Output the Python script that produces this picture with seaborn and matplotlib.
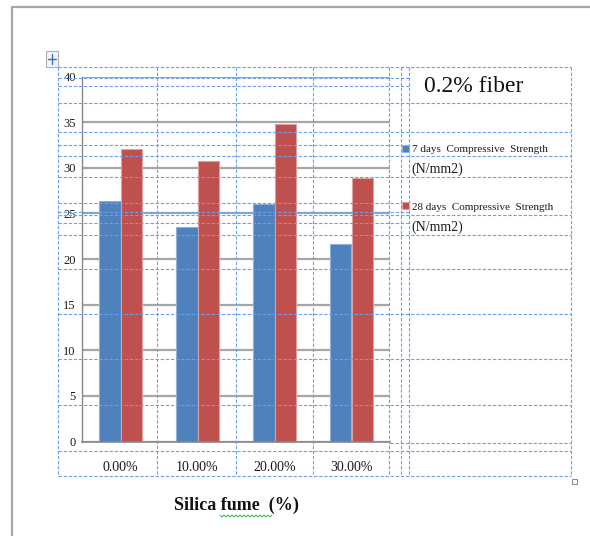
import numpy as np
import pandas as pd
import seaborn as sns
import matplotlib
matplotlib.use("Agg")
import matplotlib.pyplot as plt
from matplotlib.lines import Line2D
from matplotlib.patches import Rectangle
from matplotlib.transforms import Affine2D

# ---- data ----
categories = ["0.00%", "10.00%", "20.00%", "30.00%"]
series_names = ["7 days  Compressive  Strength", "28 days  Compressive  Strength"]
strength_7d = [26.4, 23.5, 26.0, 21.7]
strength_28d = [32.1, 30.8, 34.8, 28.9]
y_ticks = [0, 5, 10, 15, 20, 25, 30, 35, 40]

df = pd.DataFrame({
    "silica": categories * 2,
    "series": [series_names[0]] * 4 + [series_names[1]] * 4,
    "strength": strength_7d + strength_28d,
})

sns.set_style("white")
plt.rcParams["font.family"] = ["Liberation Serif", "DejaVu Serif"]

W, H = 590, 536
fig = plt.figure(figsize=(W / 100, H / 100), dpi=100)
# pixel coordinates measured from the top-left corner of the page
px = Affine2D().scale(1 / W, -1 / H).translate(0, 1) + fig.transFigure

ax = fig.add_axes([82 / W, (H - 441.5) / H, (390 - 82) / W, (441.5 - 76.7) / H])
palette = {series_names[0]: "#4f81bd", series_names[1]: "#c0504d"}
sns.barplot(data=df, x="silica", y="strength", hue="series", order=categories,
            hue_order=series_names, palette=palette, width=0.57, gap=0,
            saturation=1, ax=ax)

edge_light = {"#4f81bd": "#8fb0d8", "#c0504d": "#dca09e"}
for bar in ax.patches:
    fc = matplotlib.colors.to_hex(bar.get_facecolor())
    bar.set_edgecolor(edge_light.get(fc, "white"))
    bar.set_linewidth(0.8)

ax.set_ylim(0, 40)
ax.set_xlim(-0.5, 3.5)
ax.set_yticks(y_ticks)
ax.set_yticklabels([str(t) for t in y_ticks])
ax.yaxis.grid(True, color="#a6a6a6", linewidth=1.6)
ax.set_axisbelow(True)
ax.set_xlabel("")
ax.set_ylabel("")
for side in ["top", "right"]:
    ax.spines[side].set_visible(False)
ax.spines["left"].set_color("#868686")
ax.spines["left"].set_linewidth(1.0)
ax.spines["bottom"].set_color("#868686")
ax.spines["bottom"].set_linewidth(1.2)
ax.tick_params(axis="y", length=3, color="#a6a6a6", width=1.6, pad=1.5,
               labelsize=9, labelcolor="#1a1a1a")
ax.tick_params(axis="x", length=0, pad=14, labelsize=10, labelcolor="#1a1a1a")
ax.set_xticks([-0.5, 0.5, 1.5, 2.5, 3.5], minor=True)
ax.tick_params(axis="x", which="minor", length=3, color="#868686", width=1)

handles, labels = ax.get_legend_handles_labels()
ax.get_legend().remove()
fig.legend(handles, labels, loc="upper left", bbox_to_anchor=(402, 144.5),
           bbox_transform=px, frameon=False, fontsize=8, handlelength=0.6,
           handleheight=0.6, handletextpad=0.3, labelspacing=4.35,
           borderpad=0, borderaxespad=0, labelcolor="#1a1a1a")
fig.text(411, 169, "(N/mm2)", transform=px, fontsize=10, va="center",
         ha="left", color="#1a1a1a")
fig.text(411, 227, "(N/mm2)", transform=px, fontsize=10, va="center",
         ha="left", color="#1a1a1a")

fig.text(474, 87, "0.2% fiber", transform=px, fontsize=17, va="center",
         ha="center", color="#111111")
fig.text(236, 505, "Silica fume  (%)", transform=px, fontsize=13,
         fontweight="bold", va="center", ha="center", color="#111111")

# spell-check squiggle under "fume"
sx = np.arange(220, 274, 2)
sy = np.where(np.arange(len(sx)) % 2 == 0, 515, 517)
fig.add_artist(Line2D(sx, sy, transform=px, color="#3cb043", lw=0.7))

# page edges
fig.add_artist(Line2D([12, 12], [7, 536], transform=px, color="#a6a6a6", lw=1.6))
fig.add_artist(Line2D([12, 590], [7, 7], transform=px, color="#a6a6a6", lw=1.6))

# table gridlines (dashed)
dash = dict(transform=px, color="#6b9ff0", lw=0.8, linestyle=(0, (3, 1.6)))
for x in [58, 157, 236, 313, 389, 401, 409, 571]:
    fig.add_artist(Line2D([x, x], [67, 476], **dash))
for y in [67, 103, 132, 156, 177, 215, 235, 269, 314, 359, 405, 451, 476]:
    fig.add_artist(Line2D([58, 571], [y, y], **dash))
for y in [78, 86, 145, 203, 212, 223]:
    fig.add_artist(Line2D([58, 409], [y, y], **dash))
fig.add_artist(Line2D([390, 571], [443, 443], **dash))

# table move handle and resize box
fig.add_artist(Rectangle((46, 51), 12, 16, transform=px, facecolor="#f4f4f4",
                         edgecolor="#b0b0b0", lw=0.8))
fig.add_artist(Line2D([48, 56], [59, 59], transform=px, color="#3a6fd0", lw=1))
fig.add_artist(Line2D([52, 52], [54, 64], transform=px, color="#3a6fd0", lw=1))
fig.add_artist(Rectangle((572, 479), 5, 5, transform=px, facecolor="white",
                         edgecolor="#909090", lw=0.8))

fig.savefig("out.png", dpi=100, facecolor="white")
